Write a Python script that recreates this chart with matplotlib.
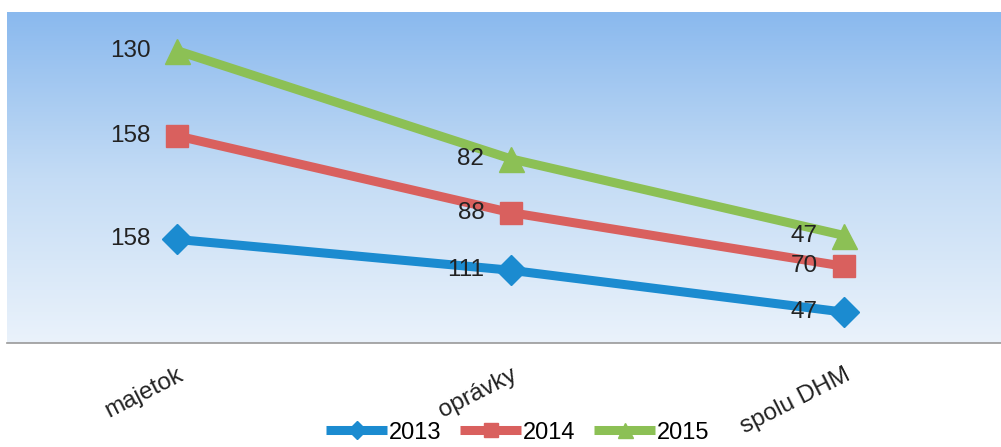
import numpy as np
import matplotlib.pyplot as plt
from matplotlib.colors import LinearSegmentedColormap

plt.rcParams['font.family'] = ['Liberation Sans', 'DejaVu Sans']

categories = ['majetok', 'oprávky', 'spolu DHM']
years = ['2013', '2014', '2015']
v2013 = [158, 111, 47]
v2014 = [158, 88, 70]
v2015 = [130, 82, 47]

colors = ['#1b8bd0', '#d9605e', '#8cc055']
markers = ['D', 's', '^']
msizes = [15, 16, 18]

fig = plt.figure(figsize=(10.01, 4.47), dpi=100)
ax = fig.add_axes([7/1001, (447-343)/447, 994/1001, 331/447])

# gradient background (blue top -> almost white bottom)
cmap = LinearSegmentedColormap.from_list('bg', ['#eaf2fb', '#c4dcf5', '#8ab9ee'])
grad = np.linspace(0, 1, 256).reshape(-1, 1)
ax.imshow(grad, aspect='auto', cmap=cmap, origin='lower',
          extent=[0, 1, 0, 1], transform=ax.transAxes, zorder=0)

x = np.arange(len(categories))
series = [v2013, v2014, v2015]
stack = np.zeros(len(categories))
for vals, yr, c, m, ms in zip(series, years, colors, markers, msizes):
    stack = stack + np.array(vals)
    ax.plot(x, stack, color=c, lw=6.5, marker=m, markersize=ms,
            solid_capstyle='butt', label=yr, zorder=3)
    for xi, yi, v in zip(x, stack, vals):
        ax.annotate(str(v), (xi, yi), xytext=(-19, 0), textcoords='offset points',
                    ha='right', va='center', fontsize=17.5, color='#222222', zorder=4)

ax.set_xlim(-0.51, 2.47)
ax.set_ylim(0, 505)
ax.set_yticks([])
ax.set_xticks(x)
ax.set_xticklabels(categories, rotation=27, ha='right', rotation_mode='anchor',
                   fontsize=17.5, color='#222222')
ax.tick_params(axis='x', length=0, pad=15)
for s in ['top', 'right', 'left']:
    ax.spines[s].set_visible(False)
ax.spines['bottom'].set_color('#999999')
ax.spines['bottom'].set_linewidth(1.2)

leg = fig.legend(loc='lower center', bbox_to_anchor=(0.517, -0.04), ncol=3,
                 frameon=False, fontsize=17, handlelength=2.6, columnspacing=0.8,
                 handletextpad=0.05, markerscale=0.6)

fig.savefig('out.png', dpi=100)
